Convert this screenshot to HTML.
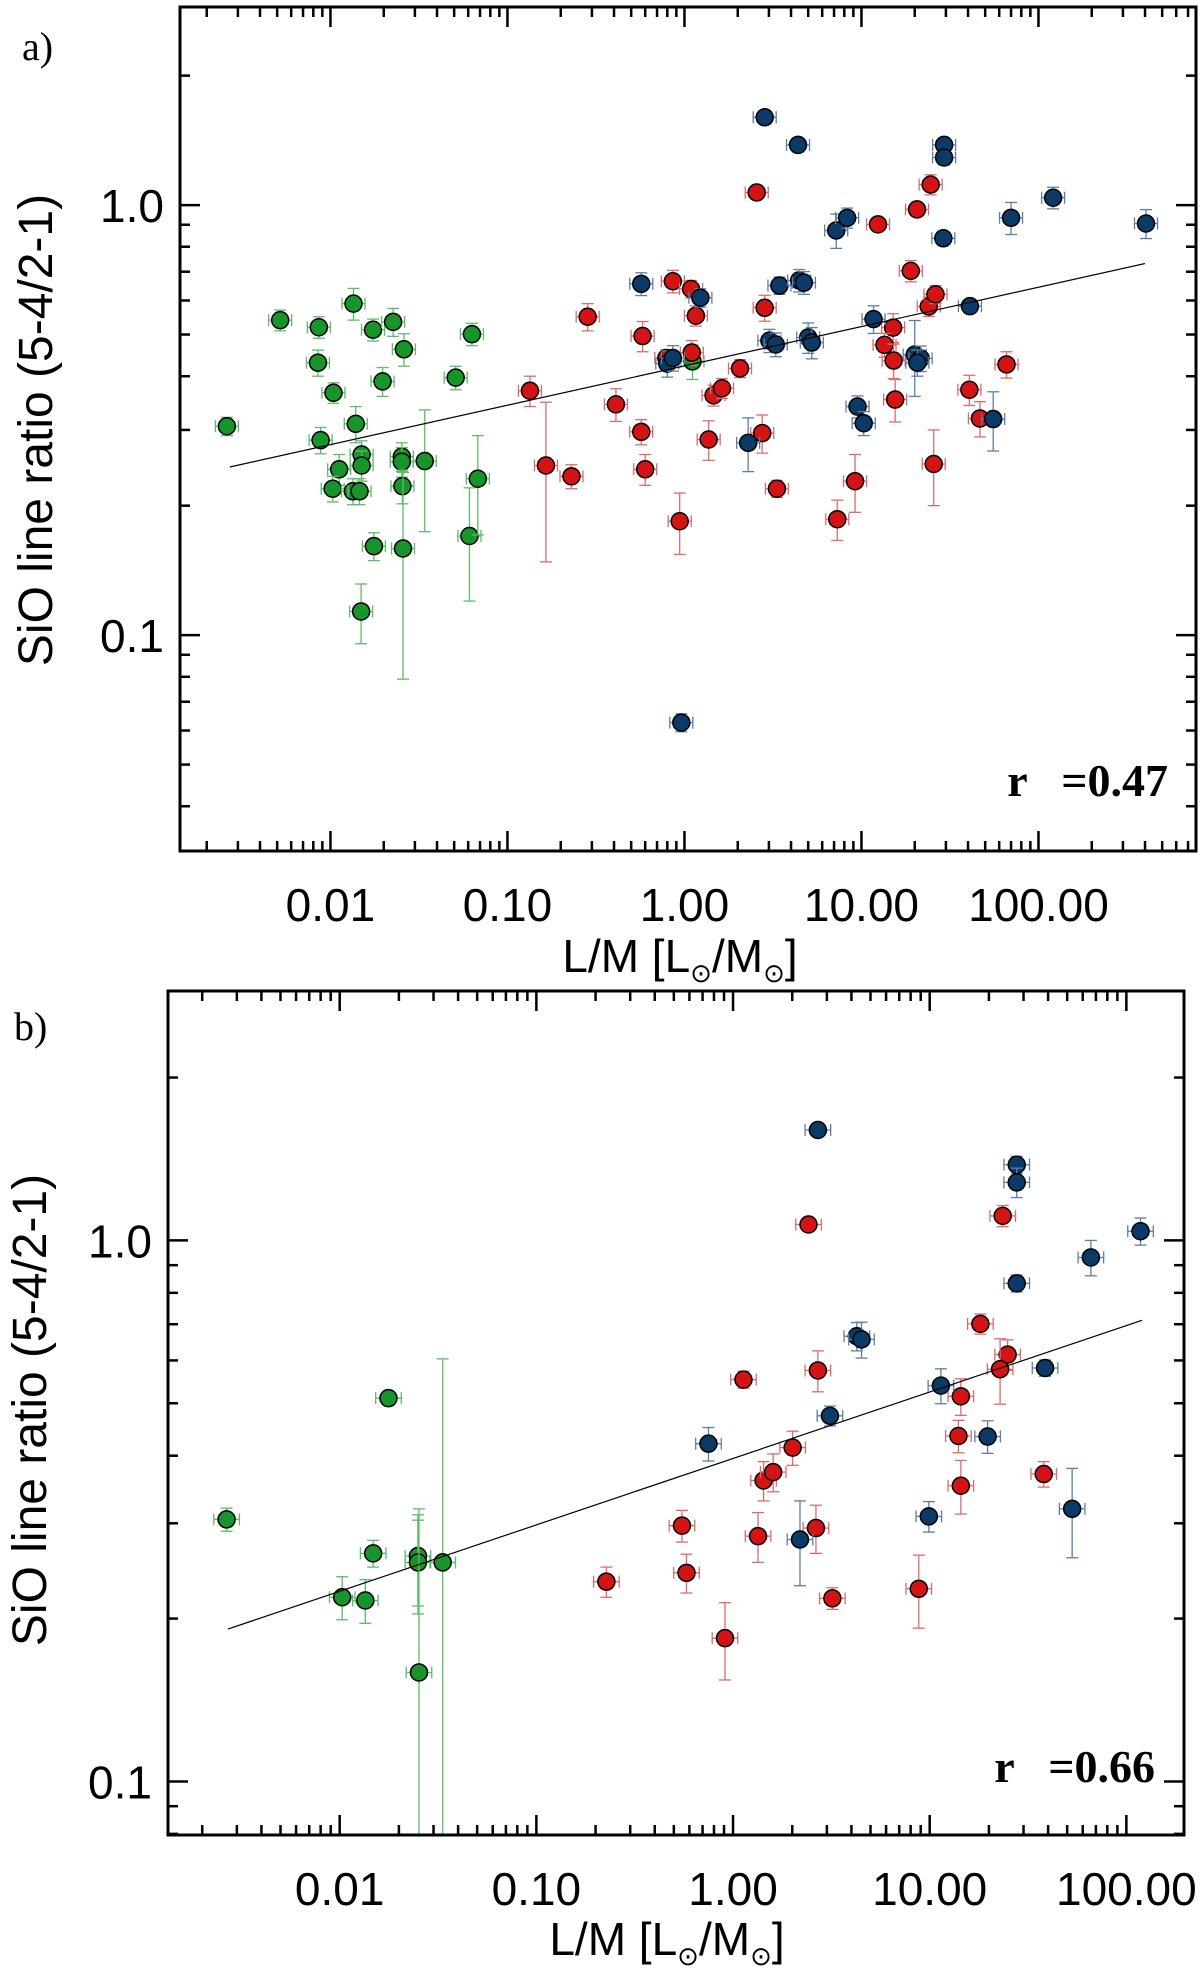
<!DOCTYPE html>
<html><head><meta charset="utf-8"><style>
html,body{margin:0;padding:0;background:#fff;}
svg{display:block;}
</style></head><body>
<svg id="fig" width="1200" height="1970" viewBox="0 0 1200 1970" xmlns="http://www.w3.org/2000/svg" font-family="Liberation Sans, DejaVu Sans, sans-serif"></svg>
<script>
// ---------- Panel a data ----------
const aGreenX=[0.0026,0.0052,0.0086,0.0085,0.0088,0.0104,0.0112,0.0103,0.0135,0.0139,0.015,0.015,0.0134,0.0146,0.0149,0.0174,0.0176,0.0226,0.0197,0.026,0.0253,0.0253,0.0255,0.0257,0.0341,0.051,0.063,0.061,0.068,1.11];
const aGreenY=[0.306,0.54,0.52,0.43,0.284,0.366,0.243,0.219,0.59,0.31,0.263,0.248,0.216,0.216,0.1135,0.513,0.161,0.535,0.389,0.462,0.26,0.253,0.222,0.159,0.254,0.397,0.501,0.170,0.231,0.433];
const aGreenErr=[0.015,0.03,0.03,0.03,0.02,0.02,0.02,0.015,0.05,0.03,0.02,0.02,0.015,0.015,0.018,0.03,0.012,0.04,0.03,0.04,0.02,0.02,0.02,0.08,0.08,0.025,0.03,0.05,0.06,0.04];
const aRedX=[0.134,0.165,0.23,0.284,0.41,0.58,0.57,0.6,0.79,0.86,0.94,1.09,1.16,1.1,1.37,1.46,1.63,2.06,2.56,2.84,2.75,3.33,7.3,9.2,12.4,15.1,13.5,15.2,15.5,19,20.6,24.6,24,26.2,25.6,40.7,46.7,66];
const aRedY=[0.37,0.248,0.234,0.55,0.344,0.496,0.297,0.243,0.441,0.665,0.184,0.638,0.553,0.454,0.285,0.361,0.375,0.417,1.07,0.577,0.295,0.219,0.186,0.228,0.902,0.519,0.473,0.435,0.353,0.703,0.977,1.116,0.581,0.62,0.25,0.372,0.319,0.426];
const aRedErr=[0.03,0.1,0.015,0.04,0.03,0.04,0.02,0.02,0.02,0.04,0.03,0.03,0.03,0.03,0.03,0.02,0.02,0.02,0.03,0.04,0.03,0.01,0.02,0.035,0.02,0.04,0.03,0.04,0.04,0.04,0.03,0.06,0.03,0.03,0.05,0.03,0.03,0.03];
const aBlueX=[2.84,4.38,0.57,1.23,0.8,0.86,3.44,4.45,4.73,3.02,3.28,5,5.24,2.29,0.96,7.2,8.3,11.7,9.5,10.3,20,21.6,20.7,29.3,29.3,29,41,55.5,70,121,405];
const aBlueY=[1.60,1.38,0.656,0.609,0.428,0.441,0.65,0.668,0.66,0.484,0.474,0.492,0.479,0.28,0.0626,0.873,0.934,0.543,0.34,0.311,0.449,0.44,0.43,1.38,1.29,0.837,0.582,0.318,0.934,1.04,0.906];
const aBlueErr=[0.05,0.05,0.04,0.03,0.03,0.03,0.03,0.04,0.04,0.03,0.03,0.04,0.04,0.04,0.003,0.08,0.05,0.04,0.02,0.02,0.09,0.03,0.03,0.05,0.05,0.03,0.02,0.05,0.08,0.06,0.07];
const aFit=[-0.374,0.0915]; // log10(y)=a+b*log10(x)
const aFitRange=[0.0027,400];
// ---------- Panel b data ----------
const bGreenX=[0.00266,0.0177,0.0148,0.0103,0.0135,0.025,0.025,0.0334,0.0253];
const bGreenY=[0.305,0.511,0.264,0.219,0.216,0.261,0.254,0.254,0.159];
const bGreenErr=[0.015,0.015,0.015,0.02,0.02,0.05,0.05,0.35,0.16];
const bRedX=[0.227,0.55,0.58,0.91,1.13,1.34,1.43,1.6,2.01,2.42,2.7,2.64,3.2,8.8,18.1,23.5,24.9,22.8,14.4,14,14.4,38];
const bRedY=[0.234,0.297,0.243,0.184,0.553,0.284,0.36,0.373,0.414,1.07,0.575,0.294,0.218,0.227,0.701,1.11,0.615,0.578,0.515,0.435,0.352,0.37];
const bRedErr=[0.015,0.02,0.02,0.03,0.02,0.03,0.03,0.03,0.03,0.03,0.05,0.03,0.01,0.035,0.03,0.05,0.04,0.08,0.04,0.03,0.04,0.02];
const bBlueX=[2.7,27.7,27.7,118,66,27.7,4.26,4.5,38.6,11.4,3.11,0.75,19.7,9.9,2.19,53];
const bBlueY=[1.6,1.38,1.28,1.04,0.93,0.833,0.665,0.656,0.581,0.539,0.474,0.421,0.434,0.309,0.28,0.319];
const bBlueErr=[0.04,0.05,0.08,0.06,0.07,0.03,0.04,0.05,0.02,0.04,0.02,0.03,0.03,0.02,0.05,0.06];
const bFit=[-0.403,0.1228];
const bFitRange=[0.0027,120];
// ---------- Tick labels ----------
const xTickVals=[0.01,0.1,1,10,100];
const xTickLabels=["0.01","0.10","1.00","10.00","100.00"];
const yTickVals=[0.1,1];
const yTickLabels=["0.1","1.0"];

const NS="http://www.w3.org/2000/svg";
const svg=document.getElementById('fig');
function mk(tag,attrs,parent){const e=document.createElementNS(NS,tag);for(const k in attrs)e.setAttribute(k,attrs[k]);(parent||svg).appendChild(e);return e;}

function panel(cfg){
  const g=mk('g',{});
  
  
  const L=cfg.box[0],R=cfg.box[1],T=cfg.box[2],B=cfg.box[3];
  const sx=v=>L+(Math.log10(v)-cfg.xl[0])/(cfg.xl[1]-cfg.xl[0])*(R-L);
  const sy=v=>B-(Math.log10(v)-cfg.yl[0])/(cfg.yl[1]-cfg.yl[0])*(B-T);
  const tg=mk('g',{stroke:'#000','stroke-width':2.5},g);
  
  
  for(let d=-3;d<=3;d++){for(let m=1;m<=9;m++){const v=m*Math.pow(10,d);const lv=Math.log10(v);
    if(lv>cfg.xl[0]&&lv<cfg.xl[1]){const x=sx(v),len=m===1?20:10;
      mk('line',{x1:x,y1:B,x2:x,y2:B-len},tg);mk('line',{x1:x,y1:T,x2:x,y2:T+len},tg);}
    if(lv>cfg.yl[0]&&lv<cfg.yl[1]){const y=sy(v),len=m===1?20:10;
      mk('line',{x1:L,y1:y,x2:L+len,y2:y},tg);mk('line',{x1:R,y1:y,x2:R-len,y2:y},tg);}
  }}
  const series=[['green',cfg.gx,cfg.gy,cfg.ge,'#18952a','#5bbd66'],['red',cfg.rx,cfg.ry,cfg.re,'#d41414','#e06a6a'],['blue',cfg.bx,cfg.by,cfg.be,'#0b3a66','#5a7fa6']];
  const xe=0.065;
  for(const [nm,X,Y,E,col,ecol] of series){
    const sg=mk('g',{},g);
    
    
    for(let i=0;i<X.length;i++){
      const x=sx(X[i]),y=sy(Y[i]);
      const lo=Math.max(Y[i]-E[i],1e-6),hi=Y[i]+E[i];
      let y1=Math.min(sy(lo),B),y2=Math.max(sy(hi),T);
      const x1=sx(X[i]*Math.pow(10,-xe)),x2=sx(X[i]*Math.pow(10,xe));
      const eg=mk('g',{stroke:ecol,'stroke-width':1.3,fill:'none'},sg);
      
      
      mk('line',{x1:x,y1:y1,x2:x,y2:y2},eg);
      if(y1<B)mk('line',{x1:x-6,y1:y1,x2:x+6,y2:y1},eg);
      mk('line',{x1:x-6,y1:y2,x2:x+6,y2:y2},eg);
      mk('line',{x1:x1,y1:y,x2:x2,y2:y},eg);
      mk('line',{x1:x1,y1:y-6,x2:x1,y2:y+6},eg);
      mk('line',{x1:x2,y1:y-6,x2:x2,y2:y+6},eg);
      const c=mk('circle',{cx:x,cy:y,r:8.5,fill:col,stroke:'#000','stroke-width':1.5},sg);
      
      
    }
  }
  const fl=mk('line',{x1:sx(cfg.fr[0]),y1:sy(Math.pow(10,cfg.fit[0]+cfg.fit[1]*Math.log10(cfg.fr[0]))),x2:sx(cfg.fr[1]),y2:sy(Math.pow(10,cfg.fit[0]+cfg.fit[1]*Math.log10(cfg.fr[1]))),stroke:'#000','stroke-width':1.2},g);
  
  
  const fr=mk('rect',{x:L,y:T,width:R-L,height:B-T,fill:'none',stroke:'#000','stroke-width':3},g);
  
  
  for(let i=0;i<xTickVals.length;i++){
    const t=mk('text',{x:sx(xTickVals[i]),y:B+70,'text-anchor':'middle','font-size':46},g);
    t.textContent=xTickLabels[i];
    
    
  }
  for(let i=0;i<yTickVals.length;i++){
    const t=mk('text',{x:L-16,y:sy(yTickVals[i])+17,'text-anchor':'end','font-size':46},g);
    t.textContent=yTickLabels[i];
    
    
  }
  const xt=mk('text',{x:cfg.xtx,y:cfg.xty,'text-anchor':'middle','font-size':46},g);
  xt.innerHTML='L/M [L<tspan font-size="26" dy="10" font-family="DejaVu Sans">⊙</tspan><tspan dy="-10">/M</tspan><tspan font-size="26" dy="10" font-family="DejaVu Sans">⊙</tspan><tspan dy="-10">]</tspan>';
  
  
  const yt=mk('text',{x:0,y:0,'text-anchor':'middle','font-size':48,transform:'translate('+cfg.ytx+','+cfg.yty+') rotate(-90)'},g);
  yt.textContent='SiO line ratio (5-4/2-1)';
  
  
  const pl=mk('text',{x:cfg.plx,y:cfg.ply,'font-size':40,'font-family':'Liberation Serif, serif'},g);
  pl.textContent=cfg.label;
  
  
  const rt=mk('text',{x:cfg.rx_,y:cfg.ry_,'text-anchor':'end','font-size':46,'font-weight':'bold','font-family':'Liberation Serif, serif',style:'white-space:pre'},g);
  rt.textContent=cfg.rtext;
  
  
}

panel({name:'panel-a',box:[180,1196,7,851],xl:[-2.85,2.89],yl:[-1.502,0.4606],
  gx:aGreenX,gy:aGreenY,ge:aGreenErr,rx:aRedX,ry:aRedY,re:aRedErr,bx:aBlueX,by:aBlueY,be:aBlueErr,
  fit:aFit,fr:aFitRange,xtx:680,xty:972,ytx:52,yty:430,plx:22,ply:60,label:'a)',rx_:1168,ry_:796,rtext:'r   =0.47'});
panel({name:'panel-b',box:[168,1184,991,1835],xl:[-2.873,2.293],yl:[-1.099,0.461],
  gx:bGreenX,gy:bGreenY,ge:bGreenErr,rx:bRedX,ry:bRedY,re:bRedErr,bx:bBlueX,by:bBlueY,be:bBlueErr,
  fit:bFit,fr:bFitRange,xtx:667,xty:1955,ytx:46,yty:1410,plx:14,ply:1040,label:'b)',rx_:1155,ry_:1782,rtext:'r   =0.66'});
</script>
</body></html>
